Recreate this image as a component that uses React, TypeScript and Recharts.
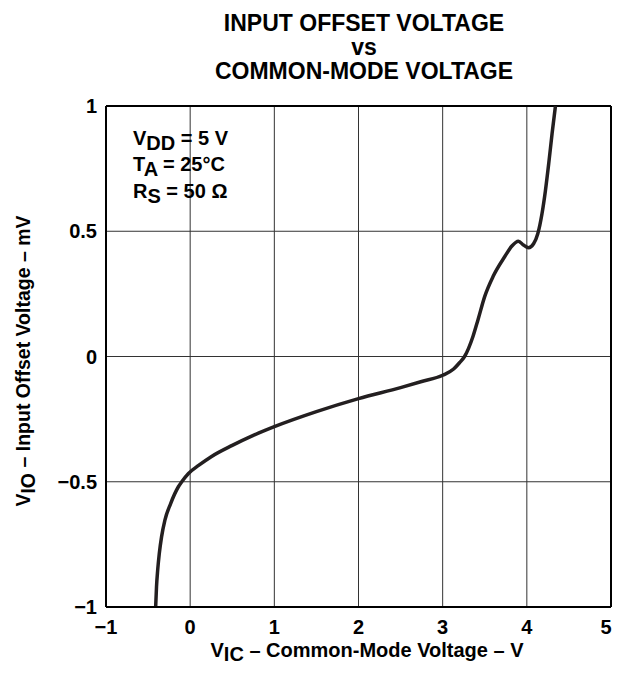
import React from 'react';
import { LineChart, Line, XAxis, YAxis, CartesianGrid, ReferenceLine } from 'recharts';

// V_IC (V) and V_IO (mV)
const vic = [
  -0.41, -0.4, -0.386, -0.367, -0.34, -0.3, -0.232, -0.14, -0.1, -0.02, 0.1, 0.25, 0.5, 0.75, 1.0,
  1.5, 2.0, 2.5, 2.75, 3.0, 3.13, 3.2, 3.26, 3.36, 3.42, 3.5, 3.6, 3.74, 3.82, 3.9, 3.96, 4.02, 4.08,
  4.13, 4.18, 4.22, 4.26, 4.3, 4.34,
];
const vio = [
  -1.0, -0.92, -0.853, -0.787, -0.72, -0.653, -0.587, -0.52, -0.5, -0.467, -0.435, -0.4, -0.355,
  -0.315, -0.28, -0.22, -0.168, -0.124, -0.1, -0.075, -0.05, -0.025, 0.0, 0.08, 0.147, 0.24, 0.32, 0.4,
  0.44, 0.46, 0.445, 0.434, 0.45, 0.49, 0.57, 0.66, 0.77, 0.89, 1.0,
];

const xTicks = [-1, 0, 1, 2, 3, 4, 5];
const yTicks = [-1, -0.5, 0, 0.5, 1];

const data = vic.map((x, i) => ({ x, y: vio[i] }));

const font = '"Liberation Sans", Arial, Helvetica, sans-serif';
const fmt = (v: number) => (v < 0 ? '\u2212' + Math.abs(v) : String(v));
const tickStyle = { fill: '#000', fontSize: 20, fontWeight: 'bold', fontFamily: font };

// x tick label; the last one is nudged left so it stays inside the picture
const XTick = (props: any) => {
  const { x, y, payload } = props;
  const last = payload.value === xTicks[xTicks.length - 1];
  return (
    <text x={x} y={y} dx={last ? -5 : 0} dy="0.71em" textAnchor="middle" {...tickStyle}>
      {fmt(payload.value)}
    </text>
  );
};

export default function App() {
  return (
    <div style={{ position: 'relative', marginLeft: -8, width: 620, height: 657, fontFamily: font }}>
      <LineChart
        width={620}
        height={657}
        data={data}
        margin={{ top: 98, right: 9, bottom: 28, left: 46 }}
      >
        <CartesianGrid stroke="#333" strokeWidth={1} />
        <XAxis
          type="number"
          dataKey="x"
          domain={[-1, 5]}
          ticks={xTicks}
          tickLine={false}
          tickSize={0}
          tickMargin={13}
          height={30}
          axisLine={{ stroke: '#000', strokeWidth: 2 }}
          tick={<XTick />}
        />
        <YAxis
          type="number"
          dataKey="y"
          domain={[-1, 1]}
          ticks={yTicks}
          tickFormatter={fmt}
          tickLine={false}
          tickSize={0}
          tickMargin={9}
          width={60}
          axisLine={{ stroke: '#000', strokeWidth: 2 }}
          tick={tickStyle}
        />
        <ReferenceLine y={1} stroke="#000" strokeWidth={2} />
        <ReferenceLine x={5} stroke="#000" strokeWidth={2} />
        <Line
          type="monotone"
          dataKey="y"
          stroke="#231f20"
          strokeWidth={3.5}
          dot={false}
          isAnimationActive={false}
        />
      </LineChart>
      <svg
        width={620}
        height={673}
        style={{ position: 'absolute', left: 0, top: -8, pointerEvents: 'none' }}
        fontFamily={font}
        fontWeight="bold"
        fill="#000"
      >
        <text x={364} y={31} fontSize={23} textAnchor="middle">INPUT OFFSET VOLTAGE</text>
        <text x={364} y={55} fontSize={23} textAnchor="middle">vs</text>
        <text x={364} y={79} fontSize={23} textAnchor="middle">COMMON-MODE VOLTAGE</text>

        <text x={133} y={145} fontSize={20}>
          V<tspan dy={5}>DD</tspan><tspan dy={-5}> = 5 V</tspan>
        </text>
        <text x={133} y={171} fontSize={20}>
          T<tspan dy={5}>A</tspan><tspan dy={-5}> = 25°C</tspan>
        </text>
        <text x={133} y={198} fontSize={20}>
          R<tspan dy={5}>S</tspan><tspan dy={-5}> = 50 Ω</tspan>
        </text>

        <text x={367} y={657} fontSize={20} textAnchor="middle">
          V<tspan dy={4}>IC</tspan><tspan dy={-4}> – Common-Mode Voltage – V</tspan>
        </text>
        <text x={30} y={361} fontSize={19.5} textAnchor="middle" transform="rotate(-90 30 361)">
          V<tspan dy={5}>IO</tspan><tspan dy={-5}> – Input Offset Voltage – mV</tspan>
        </text>
      </svg>
    </div>
  );
}
